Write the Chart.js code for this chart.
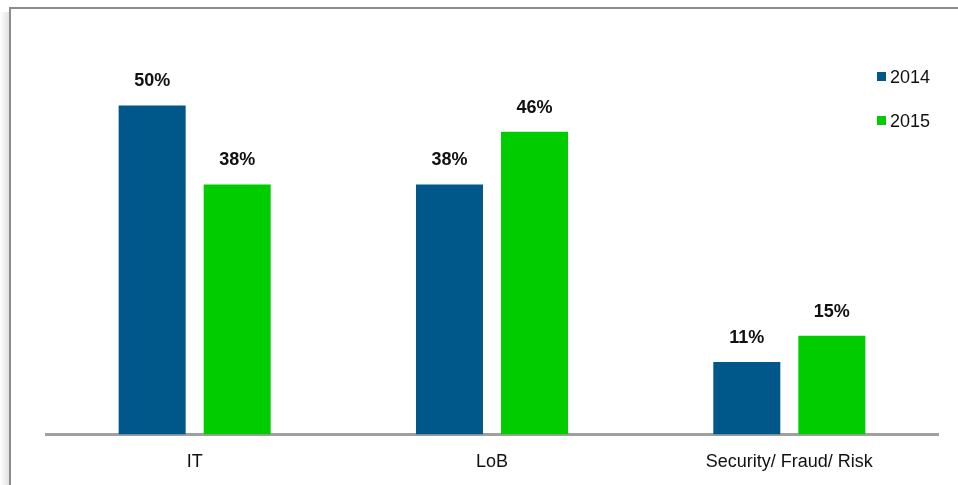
<!DOCTYPE html>
<html lang="en">
<head>
    <meta charset="UTF-8">
    <title>IT / LoB / Security</title>
    <script src="https://cdn.jsdelivr.net/npm/chart.js"></script>
    <style>
        body {
            margin: 0;
            background-color: #ffffff;
            font-family: Arial, "Liberation Sans", sans-serif;
            overflow: hidden;
        }

        .frame {
            position: absolute;
            left: 9px;
            top: 7px;
            right: 0;
            bottom: 0;
            border-top: 2px solid #8c8c8c;
            border-left: 2px solid #8c8c8c;
        }

        .shadow {
            position: absolute;
            left: 0;
            top: 12px;
            width: 9px;
            bottom: 0;
            background: linear-gradient(to right, #ffffff, #e2e2e2);
        }

        .chart-container {
            position: absolute;
            left: 0;
            top: 0;
            width: 958px;
            height: 490px;
        }

        .legend {
            position: absolute;
            left: 877px;
            font-size: 18px;
            color: #111;
            line-height: 20px;
        }

        .legend span {
            display: inline-block;
            width: 9px;
            height: 9px;
            margin-right: 4px;
            vertical-align: 2px;
        }
    </style>
</head>
<body>
    <div class="shadow"></div>
    <div class="frame"></div>
    <div class="chart-container">
        <canvas id="groupChart" width="958" height="490"></canvas>
    </div>
    <div class="legend" style="top: 67px;"><span style="background:#00578a"></span>2014</div>
    <div class="legend" style="top: 111px;"><span style="background:#00cc00"></span>2015</div>

    <script>
        const categories = ['IT', 'LoB', 'Security/ Fraud/ Risk'];
        const values2014 = [50, 38, 11];
        const values2015 = [38, 46, 15];

        // percentage labels above each bar
        const barLabels = {
            id: 'barLabels',
            afterDatasetsDraw(chart) {
                const ctx = chart.ctx;
                ctx.save();
                ctx.font = 'bold 18px Arial, "Liberation Sans", sans-serif';
                ctx.fillStyle = '#111';
                ctx.textAlign = 'center';
                ctx.textBaseline = 'bottom';
                chart.data.datasets.forEach((ds, i) => {
                    chart.getDatasetMeta(i).data.forEach((bar, j) => {
                        ctx.fillText(ds.data[j] + '%', bar.x, bar.y - 15);
                    });
                });
                ctx.restore();
            }
        };

        const ctx = document.getElementById('groupChart').getContext('2d');
        const groupChart = new Chart(ctx, {
            type: 'bar',
            data: {
                labels: categories,
                datasets: [
                    { label: '2014', data: values2014, backgroundColor: '#00578a' },
                    { label: '2015', data: values2015, backgroundColor: '#00cc00' },
                ],
            },
            options: {
                responsive: false,
                animation: false,
                layout: { padding: { left: 46, right: 20, top: 20, bottom: 0 } },
                datasets: {
                    bar: { categoryPercentage: 0.572, barPercentage: 0.788 }
                },
                scales: {
                    x: {
                        grid: { display: false, drawTicks: false },
                        border: { display: true, color: '#a0a0a0', width: 3 },
                        ticks: {
                            padding: 17,
                            color: '#111',
                            font: { family: 'Arial, "Liberation Sans", sans-serif', size: 18 },
                        },
                    },
                    y: { display: false, min: 0, max: 63 },
                },
                plugins: { legend: { display: false }, tooltip: { enabled: false } },
            },
            plugins: [barLabels],
        });
    </script>
</body>
</html>
